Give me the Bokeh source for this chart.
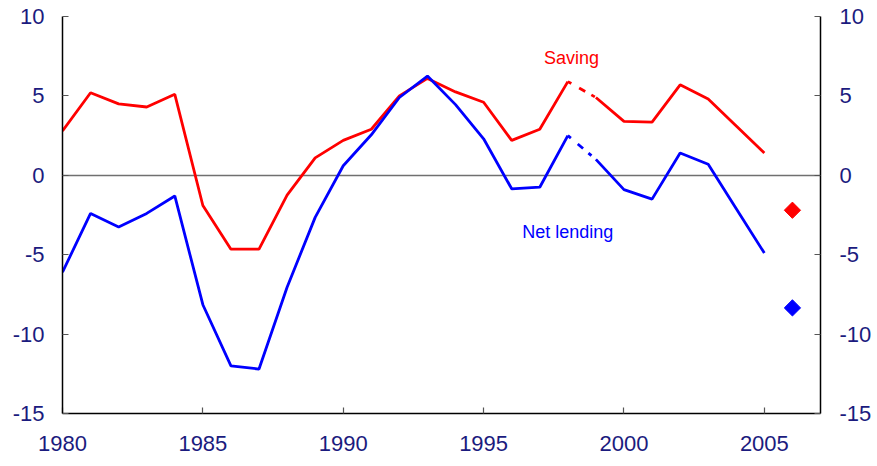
import math
from bokeh.plotting import figure
from bokeh.models import LinearAxis, FixedTicker, Range1d, Label, PrintfTickFormatter
from bokeh.embed import file_html
from bokeh.resources import INLINE

years = [1980, 1981, 1982, 1983, 1984, 1985, 1986, 1987, 1988, 1989, 1990, 1991,
         1992, 1993, 1994, 1995, 1996, 1997, 1998, 1999, 2000, 2001, 2002, 2003,
         2004, 2005]
saving = [2.8, 5.2, 4.5, 4.3, 5.1, -1.9, -4.65, -4.65, -1.25, 1.1, 2.2, 2.9,
          5.0, 6.1, 5.25, 4.6, 2.2, 2.9, 5.9, 4.9, 3.4, 3.35, 5.7, 4.8,
          3.1, 1.4]
net_lending = [-6.1, -2.4, -3.25, -2.4, -1.3, -8.15, -12.0, -12.2, -7.05, -2.65, 0.6, 2.55,
               4.9, 6.25, 4.45, 2.3, -0.85, -0.75, 2.5, 1.0, -0.9, -1.5, 1.4, 0.7,
               -2.1, -4.9]
forecast_year = [2006]
saving_forecast = [-2.2]
net_lending_forecast = [-8.35]
gap_start, gap_end = 18, 19  # 1998 -> 1999 shown dashed

x_ticks = [1980, 1985, 1990, 1995, 2000, 2005]
y_ticks = [-15, -10, -5, 0, 5, 10]

NAVY = "#1b1b7e"
RED = "#ff0000"
BLUE = "#0000ff"
FONT = "Liberation Sans"

p = figure(width=875, height=464, output_backend="svg", toolbar_location=None,
           x_range=Range1d(1980, 2007), y_range=Range1d(-15, 10),
           min_border_left=62, min_border_right=55, min_border_top=16,
           min_border_bottom=51, y_axis_location="left")
p.outline_line_color = None
p.background_fill_color = "white"
p.border_fill_color = "white"

p.xgrid.visible = False
p.ygrid.ticker = FixedTicker(ticks=[0, 10])
p.ygrid.grid_line_color = "#707070"
p.ygrid.grid_line_width = 1.5

def style_axis(ax):
    ax.axis_line_color = "black"
    ax.axis_line_width = 1.5
    ax.major_tick_in = 6
    ax.major_tick_out = 0
    ax.minor_tick_line_color = None
    ax.major_tick_line_color = "#555555"
    ax.major_tick_line_width = 1.2
    ax.major_label_text_color = NAVY
    ax.major_label_text_font = FONT
    ax.major_label_text_font_size = "22px"
    ax.formatter = PrintfTickFormatter(format="%d")

xa = p.xaxis[0]
xa.ticker = FixedTicker(ticks=x_ticks)
style_axis(xa)
xa.major_label_standoff = 22

ya = p.yaxis[0]
ya.ticker = FixedTicker(ticks=y_ticks)
style_axis(ya)
ya.major_label_standoff = 18

yr = LinearAxis(ticker=FixedTicker(ticks=y_ticks))
style_axis(yr)
yr.major_label_standoff = 19
p.add_layout(yr, "right")

LW = 2.8
# Solid parts
p.line(years[:gap_start + 1], saving[:gap_start + 1], line_color=RED, line_width=LW)
p.line(years[gap_end:], saving[gap_end:], line_color=RED, line_width=LW)
p.line(years[:gap_start + 1], net_lending[:gap_start + 1], line_color=BLUE, line_width=LW)
p.line(years[gap_end:], net_lending[gap_end:], line_color=BLUE, line_width=LW)
# Dashed gap
p.line(years[gap_start:gap_end + 1], saving[gap_start:gap_end + 1], line_color=RED,
       line_width=LW, line_dash="4 9 7 7")
p.line(years[gap_start:gap_end + 1], net_lending[gap_start:gap_end + 1], line_color=BLUE,
       line_width=LW, line_dash="4 9 7 7")

# Forecast diamonds
p.scatter(forecast_year, saving_forecast, marker="square", size=11.5, angle=math.pi / 4,
          fill_color=RED, line_color=RED)
p.scatter(forecast_year, net_lending_forecast, marker="square", size=11.5, angle=math.pi / 4,
          fill_color=BLUE, line_color=BLUE)

p.add_layout(Label(x=1998.13, y=7.36, text="Saving", text_color=RED, text_font=FONT,
                   text_font_size="18px", text_align="center", text_baseline="middle"))
p.add_layout(Label(x=1998.0, y=-3.6, text="Net lending", text_color=BLUE, text_font=FONT,
                   text_font_size="18px", text_align="center", text_baseline="middle"))

open("out.html", "w").write(file_html(p, INLINE))
